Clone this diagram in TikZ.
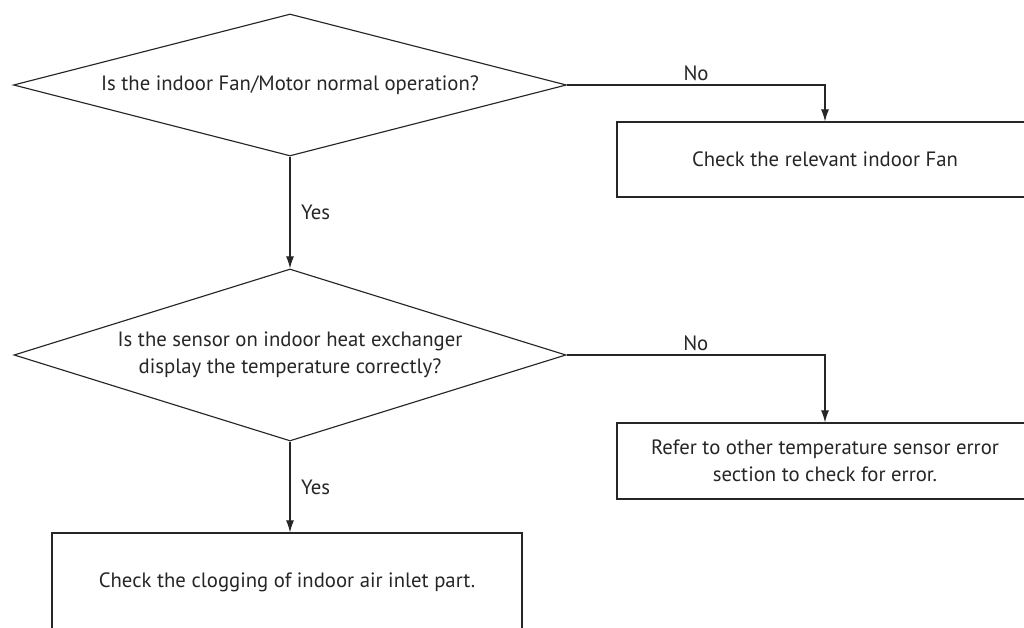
\documentclass[tikz,border=0pt]{standalone}
\usepackage{fontspec}
\setmainfont{PT Sans}
\usepackage{xcolor}
\usetikzlibrary{arrows.meta, positioning, calc, shapes.geometric}
\definecolor{inkgray}{HTML}{262626}
\tikzset{
  decision/.style={draw=inkgray, diamond, inner sep=0pt, align=center, line width=0.65pt},
  action/.style={draw=inkgray, rectangle, inner sep=0pt, align=center, line width=0.65pt},
  link/.style={-{Latex[length=2.4mm, width=1.6mm]}, draw=inkgray, line width=0.65pt},
  tag/.style={text=inkgray, inner sep=2pt}
}

\begin{document}
\begin{tikzpicture}[font=\fontsize{11.8}{15.5}\selectfont, text=inkgray]
        % Frame
        \path[use as bounding box, clip] (0,0) rectangle (20.48,12.56);

        % Decisions
        \node[decision, aspect=3.92, minimum width=11.06cm, minimum height=2.84cm] (fan) at (5.8,10.86)
            {Is the indoor Fan/Motor normal operation?};
        \node[decision, aspect=3.2, minimum width=11.04cm, minimum height=3.44cm] (sensor) at (5.8,5.46)
            {Is the sensor on indoor heat exchanger\\display the temperature correctly?};

        % Actions
        \node[action, minimum width=8.32cm, minimum height=1.5cm] (checkfan) at (16.5,9.37)
            {Check the relevant indoor Fan};
        \node[action, minimum width=8.32cm, minimum height=1.52cm] (refer) at (16.5,3.34)
            {Refer to other temperature sensor error\\section to check for error.};
        \node[action, minimum width=9.4cm, minimum height=1.96cm] (clog) at (5.74,0.92)
            {Check the clogging of indoor air inlet part.};

        % Links
        \draw[link] (fan.south) -- node[tag, right=4pt] {Yes} (sensor.north);
        \draw[link] (fan.east) -| node[tag, pos=0.25, above=0pt] {No} (checkfan.north);
        \draw[link] (sensor.east) -| node[tag, pos=0.25, above=0pt] {No} (refer.north);
        \draw[link] (sensor.south) -- node[tag, right=4pt] {Yes} (sensor.south |- clog.north);
\end{tikzpicture}
\end{document}
